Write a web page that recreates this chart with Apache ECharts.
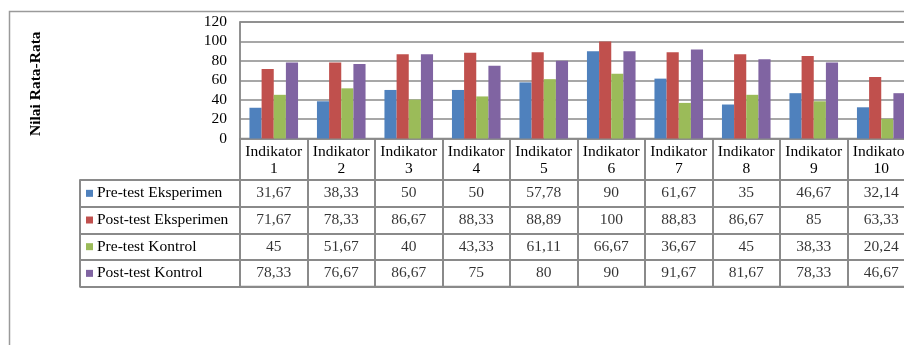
<!DOCTYPE html>
<html>
<head>
<meta charset="utf-8">
<script src="https://cdn.jsdelivr.net/npm/echarts@6/dist/echarts.min.js"></script>
<style>
html,body{margin:0;padding:0;background:#fff;}
#c{width:904px;height:345px;}
</style>
</head>
<body>
<div id="c"></div>
<script>
var categories = ['Indikator\n1','Indikator\n2','Indikator\n3','Indikator\n4','Indikator\n5','Indikator\n6','Indikator\n7','Indikator\n8','Indikator\n9','Indikator\n10'];
var seriesNames = ['Pre-test Eksperimen','Post-test Eksperimen','Pre-test Kontrol','Post-test Kontrol'];
var preEksperimen  = [31.67, 38.33, 50, 50, 57.78, 90, 61.67, 35, 46.67, 32.14];
var postEksperimen = [71.67, 78.33, 86.67, 88.33, 88.89, 100, 88.83, 86.67, 85, 63.33];
var preKontrol     = [45, 51.67, 40, 43.33, 61.11, 66.67, 36.67, 45, 38.33, 20.24];
var postKontrol    = [78.33, 76.67, 86.67, 75, 80, 90, 91.67, 81.67, 78.33, 46.67];
var colors = ['#4F81BD','#C0504D','#9BBB59','#8064A2'];
var yTicks = {min: 0, max: 120, interval: 20};

var allSeries = [preEksperimen, postEksperimen, preKontrol, postKontrol];
var FONT = '"Liberation Serif","Times New Roman",serif';
var FS = 15.5;
var LINE = '#8a8a8a';

function fmt(v){ return String(v).replace('.', ','); }

var tableData = [];
allSeries.forEach(function(arr, r){
  arr.forEach(function(v, i){ tableData.push([i, r, v]); });
});

var rich = {};
colors.forEach(function(c, i){
  rich['m' + i] = {width: 7, height: 7, backgroundColor: c};
});
rich.t = {fontFamily: FONT, fontSize: FS, color: '#000', padding: [0,0,0,4]};

var barSeries = allSeries.map(function(arr, i){
  return {
    name: seriesNames[i],
    type: 'bar',
    xAxisIndex: 0,
    yAxisIndex: 0,
    data: arr,
    barGap: '0%',
    barCategoryGap: '28%',
    itemStyle: {color: colors[i]},
    silent: true,
    animation: false
  };
});

var chart = echarts.init(document.getElementById('c'), null, {renderer: 'canvas'});
chart.setOption({
  animation: false,
  textStyle: {fontFamily: FONT},
  graphic: [{
    type: 'rect',
    shape: {x: 9.5, y: 11.5, width: 1000, height: 400},
    style: {fill: 'none', stroke: '#9a9a9a', lineWidth: 1.5},
    silent: true,
    z: -10
  }],
  grid: [
    {left: 240, top: 22, width: 675, height: 116.5, show: true, borderColor: LINE, borderWidth: 1.5, backgroundColor: 'transparent', outerBoundsMode: 'none', containLabel: false},
    {left: 240, top: 180, width: 675, height: 106.7, show: true, borderColor: LINE, borderWidth: 2, backgroundColor: 'transparent', outerBoundsMode: 'none', containLabel: false}
  ],
  xAxis: [
    {
      type: 'category', gridIndex: 0, data: categories,
      axisLine: {show: true, lineStyle: {color: LINE, width: 1.5}},
      axisTick: {show: true, length: 41.5, lineStyle: {color: LINE, width: 2}},
      axisLabel: {fontFamily: FONT, fontSize: FS, color: '#000', lineHeight: 17, margin: 5, interval: 0, hideOverlap: false},
      splitLine: {show: false}
    },
    {
      type: 'category', gridIndex: 1, data: categories,
      axisLine: {show: true, lineStyle: {color: LINE, width: 2}},
      axisTick: {show: false},
      axisLabel: {show: false},
      splitLine: {show: true, lineStyle: {color: LINE, width: 2}}
    }
  ],
  yAxis: [
    {
      type: 'value', gridIndex: 0, min: yTicks.min, max: yTicks.max, interval: yTicks.interval,
      name: 'Nilai Rata-Rata', nameLocation: 'middle', nameGap: 196, nameRotate: 90,
      nameTextStyle: {fontFamily: FONT, fontSize: FS, fontWeight: 'bold', color: '#000', padding: [0, 7, 0, 0]},
      axisLine: {show: true, lineStyle: {color: LINE, width: 1.5}},
      axisTick: {show: false},
      axisLabel: {fontFamily: FONT, fontSize: FS, color: '#000', margin: 13},
      splitLine: {show: true, lineStyle: {color: LINE, width: 1.5}}
    },
    {
      type: 'category', gridIndex: 1, data: seriesNames, inverse: true,
      axisLine: {show: true, lineStyle: {color: LINE, width: 2}},
      axisTick: {show: true, length: 160, lineStyle: {color: LINE, width: 2}},
      axisLabel: {
        margin: 154, align: 'left',
        formatter: function(v, idx){ return '{m' + idx + '|}{t|' + v + '}'; },
        rich: rich
      },
      splitLine: {show: true, lineStyle: {color: LINE, width: 2}}
    },
    {
      type: 'category', gridIndex: 1, data: seriesNames, inverse: true, offset: 160, position: 'left',
      axisLine: {show: true, lineStyle: {color: LINE, width: 2}},
      axisTick: {show: false},
      axisLabel: {show: false},
      splitLine: {show: false}
    }
  ],
  series: barSeries.concat([{
    type: 'scatter',
    xAxisIndex: 1,
    yAxisIndex: 1,
    data: tableData,
    symbolSize: 1,
    itemStyle: {color: 'rgba(0,0,0,0)'},
    silent: true,
    label: {
      show: true, position: 'inside',
      formatter: function(p){ return fmt(p.value[2]); },
      fontFamily: FONT, fontSize: FS, color: '#000'
    }
  }])
});
</script>
</body>
</html>
